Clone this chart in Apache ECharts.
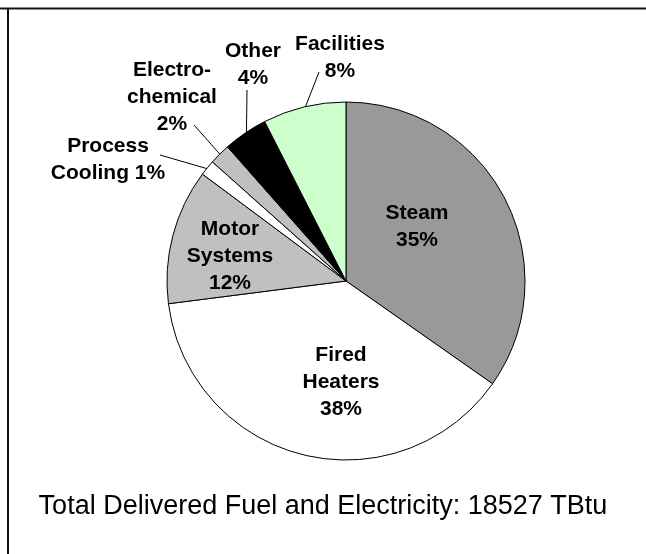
<!DOCTYPE html>
<html>
<head>
<meta charset="utf-8">
<script src="https://cdn.jsdelivr.net/npm/echarts@6/dist/echarts.min.js"></script>
<style>
  html, body { margin: 0; padding: 0; background: #fff; }
  #chart { width: 646px; height: 554px; }
</style>
</head>
<body>
<div id="chart"></div>
<script>
// share of total delivered energy (percent)
let categories = ['Steam', 'Fired Heaters', 'Motor Systems', 'Process Cooling', 'Electrochemical', 'Other', 'Facilities']
let shares = [34.7, 38.2, 12.2, 1.4, 1.9, 4.0, 7.5]
let labelTexts = [
  'Steam\n35%',
  'Fired\nHeaters\n38%',
  'Motor\nSystems\n12%',
  'Process\nCooling 1%',
  'Electro-\nchemical\n2%',
  'Other\n4%',
  'Facilities\n8%',
]
let totalText = 'Total Delivered Fuel and Electricity: 18527 TBtu'

// layout only
const sliceColors = ['#999999', '#ffffff', '#c0c0c0', '#ffffff', '#c0c0c0', '#000000', '#ccffcc']
const center = [346, 281]
const radius = 179
const labelPos = [[417, 227], [341, 382], [230, 256], [108, 160], [172, 97], [253, 65], [340, 58]]
const lineEnd = [null, null, null, [160, 155], [194, 125], [247, 90], [319, 72]]

const total = shares.reduce((a, b) => a + b, 0)

// point on the rim at the middle of slice i (clockwise from 12 o'clock)
function rimPoint(i) {
  let before = 0
  for (let k = 0; k < i; k++) before += shares[k]
  const t = ((before + shares[i] / 2) / total) * Math.PI * 2
  const r = radius - 2
  return [center[0] + r * Math.sin(t), center[1] - r * Math.cos(t)]
}

let myChart = echarts.init(document.getElementById('chart'))
myChart.setOption({
  animation: false,
  title: {
    text: totalText,
    left: 'center',
    top: 493,
    padding: 0,
    textStyle: {
      fontFamily: 'Liberation Sans, Arial, sans-serif',
      fontSize: 27,
      fontWeight: 'normal',
      color: '#000',
    },
  },
  graphic: [
    { type: 'line', shape: { x1: 0, y1: 8.5, x2: 646, y2: 8.5 }, style: { stroke: '#111', lineWidth: 2 } },
    { type: 'line', shape: { x1: 8, y1: 8, x2: 8, y2: 554 }, style: { stroke: '#111', lineWidth: 2 } },
  ],
  series: [
    {
      type: 'pie',
      center: center,
      radius: radius,
      startAngle: 90,
      clockwise: true,
      avoidLabelOverlap: false,
      itemStyle: {
        borderColor: '#000',
        borderWidth: 1,
      },
      emphasis: { disabled: true },
      label: {
        fontFamily: 'Liberation Sans, Arial, sans-serif',
        fontSize: 21,
        fontWeight: 'bold',
        lineHeight: 27,
        color: '#000',
        align: 'center',
        formatter: (p) => labelTexts[p.dataIndex],
      },
      labelLine: {
        lineStyle: { color: '#000', width: 1 },
      },
      labelLayout: function (params) {
        const i = params.dataIndex
        const out = {
          x: labelPos[i][0],
          y: labelPos[i][1],
          align: 'center',
          verticalAlign: 'middle',
        }
        if (lineEnd[i]) {
          const s = rimPoint(i)
          const e = lineEnd[i]
          out.labelLinePoints = [s, [(s[0] + e[0]) / 2, (s[1] + e[1]) / 2], e]
        }
        return out
      },
      data: categories.map((name, i) => ({
        name: name,
        value: shares[i],
        itemStyle: { color: sliceColors[i] },
        label: { position: lineEnd[i] ? 'outside' : 'inside' },
        labelLine: { show: !!lineEnd[i], length: 10, length2: 10 },
      })),
    },
  ],
})
</script>
</body>
</html>
